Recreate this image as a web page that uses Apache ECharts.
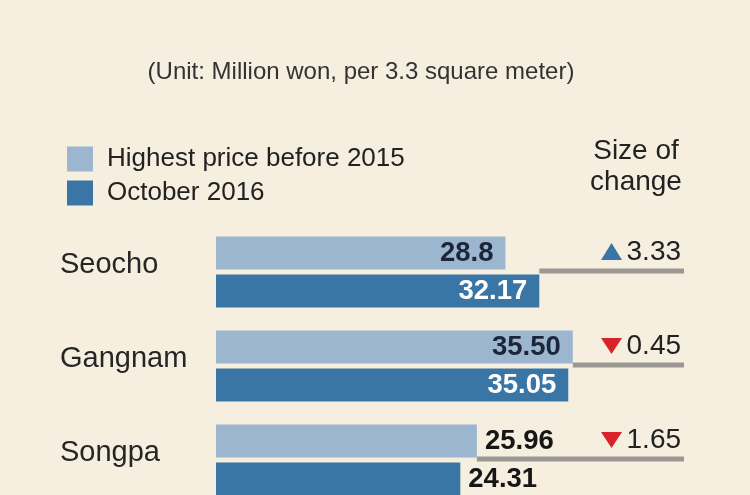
<!DOCTYPE html>
<html>
<head>
<meta charset="utf-8">
<script src="https://cdn.jsdelivr.net/npm/echarts@6/dist/echarts.min.js"></script>
<style>
html,body{margin:0;padding:0;background:#f6efdf;overflow:hidden;width:750px;height:495px;}
#c{width:750px;height:530px;}
</style>
</head>
<body>
<div id="c"></div>
<script>
var categories = ['Seocho', 'Gangnam', 'Songpa'];
var before2015 = [28.8, 35.50, 25.96];
var before2015Labels = ['28.8', '35.50', '25.96'];
var october2016 = [32.17, 35.05, 24.31];
var october2016Labels = ['32.17', '35.05', '24.31'];
var changes = [3.33, -0.45, -1.65];
var changeLabels = ['3.33', '0.45', '1.65'];
var outsideLabel = [false, false, true];
var seriesNames = ['Highest price before 2015', 'October 2016'];

var FONT = '"Liberation Sans", Arial, sans-serif';
var LIGHT = '#9cb6d0';
var DARK = '#3a76a5';
var BAR_W = 33;
var LINE_END = 46.57;

function barData(vals, labels, insideColor) {
  return vals.map(function (v, i) {
    var item = { value: v, label: { formatter: labels[i] } };
    if (outsideLabel[i]) {
      item.label.position = 'right';
      item.label.distance = 8;
      item.label.color = '#161616';
    } else {
      item.label.position = 'insideRight';
      item.label.distance = 12;
      item.label.color = insideColor;
    }
    return item;
  });
}

var chart = echarts.init(document.getElementById('c'), null, { renderer: 'canvas' });
chart.setOption({
  backgroundColor: '#f6efdf',
  animation: false,
  grid: { left: 216, top: 225, width: 502.5, height: 282, containLabel: false },
  xAxis: { type: 'value', min: 0, max: 50, show: false },
  yAxis: {
    type: 'category', data: categories, inverse: true,
    axisLine: { show: false }, axisTick: { show: false }, axisLabel: { show: false }
  },
  legend: {
    orient: 'vertical', left: 62, top: 141, itemWidth: 26, itemHeight: 25, itemGap: 8,
    icon: 'rect', data: seriesNames,
    textStyle: { fontSize: 26, color: '#222', fontFamily: FONT, padding: [0, 0, 0, 9] }
  },
  graphic: [
    { type: 'text', x: 361, y: 60, style: { text: '(Unit: Million won, per 3.3 square meter)', font: '24px ' + FONT, fill: '#333', textAlign: 'center' } },
    { type: 'text', x: 636, y: 136, style: { text: 'Size of\nchange', font: '28px ' + FONT, fill: '#222', textAlign: 'center', lineHeight: 31 } }
  ],
  series: [
    {
      name: seriesNames[0], type: 'bar', barWidth: BAR_W, barGap: '15%',
      itemStyle: { color: LIGHT },
      label: { show: true, fontSize: 27.5, fontWeight: 'bold', fontFamily: FONT },
      data: barData(before2015, before2015Labels, '#1c2638')
    },
    {
      name: seriesNames[1], type: 'bar', barWidth: BAR_W, barGap: '15%',
      itemStyle: { color: DARK },
      label: { show: true, fontSize: 27.5, fontWeight: 'bold', fontFamily: FONT },
      data: barData(october2016, october2016Labels, '#ffffff')
    },
    {
      type: 'custom', silent: true, z: 5, clip: false,
      data: categories.map(function (c, i) { return [i]; }),
      encode: { y: 0 },
      renderItem: function (params, api) {
        var i = api.value(0);
        var start = Math.max(before2015[i], october2016[i]);
        var p0 = api.coord([start, i]);
        var p1 = api.coord([LINE_END, i]);
        var cy = p0[1] - 1;
        var ty = p0[1] - (BAR_W + 5) / 2 - 1;
        var up = changes[i] > 0;
        var tx = p1[0] - 3;
        var triR = p1[0] - 62;
        var tri = up
          ? [[triR - 21, ty + 8], [triR, ty + 8], [triR - 10.5, ty - 9]]
          : [[triR - 21, ty - 8], [triR, ty - 8], [triR - 10.5, ty + 8]];
        return {
          type: 'group',
          children: [
            { type: 'text', x: 60, y: p0[1] - 7, style: { text: categories[i], font: '29px ' + FONT, fill: '#262626', textAlign: 'left', textVerticalAlign: 'middle' } },
            { type: 'line', shape: { x1: p0[0], y1: cy, x2: p1[0], y2: cy }, style: { stroke: '#9b9893', lineWidth: 5 } },
            { type: 'polygon', shape: { points: tri }, style: { fill: up ? '#3a76a5' : '#d8232a' } },
            { type: 'text', x: tx, y: ty, style: { text: changeLabels[i], font: '28px ' + FONT, fill: '#222', textAlign: 'right', textVerticalAlign: 'middle' } }
          ]
        };
      }
    }
  ]
});
</script>
</body>
</html>
